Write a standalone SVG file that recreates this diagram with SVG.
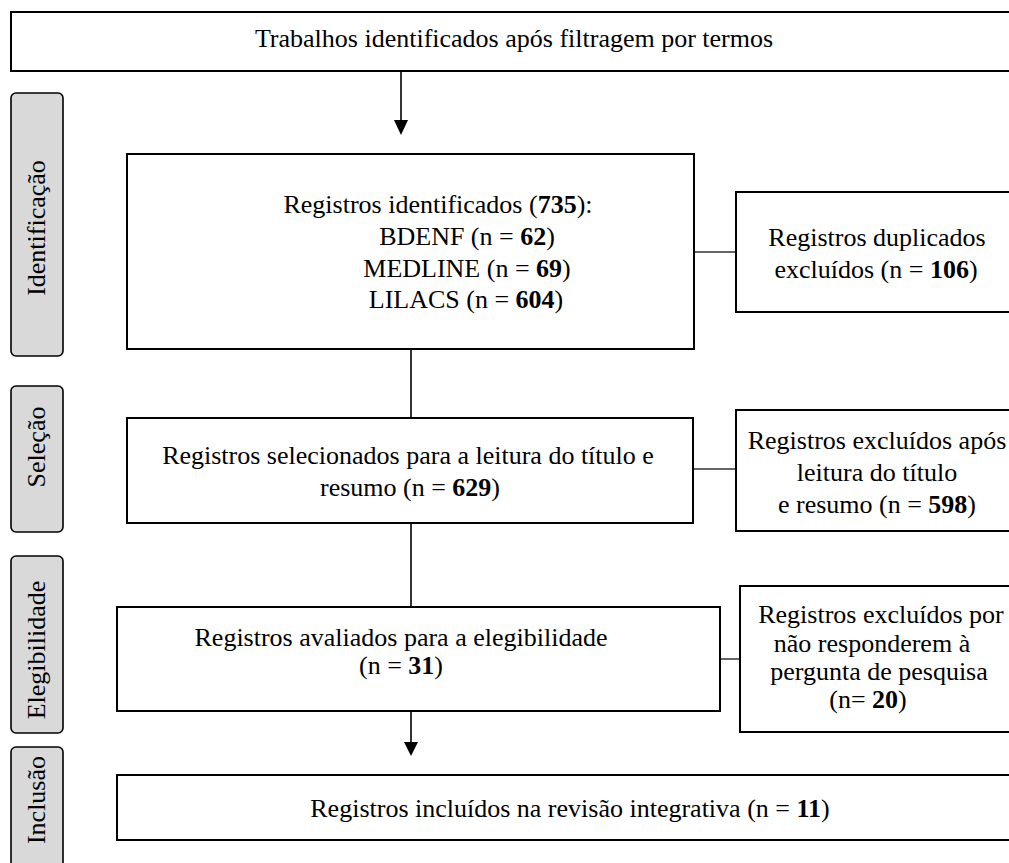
<svg xmlns="http://www.w3.org/2000/svg" width="1009" height="863" viewBox="0 0 1009 863" font-family="'Liberation Serif', 'DejaVu Serif', serif">
<style>
.box{fill:#fff;stroke:#000;stroke-width:2}
.side{fill:#d9d9d9;stroke:#000;stroke-width:1.6}
.t{font-family:'Liberation Serif', 'DejaVu Serif', serif;font-size:26px;fill:#000;text-anchor:middle}
.b{font-weight:bold}
.v{stroke:#000;stroke-width:1.6;fill:none}
.h{stroke:#666;stroke-width:2;fill:none}
</style>
<g id="connectors">
<line class="v" x1="401" y1="71" x2="401" y2="120"/>
<path d="M394,120 L408,120 L401,135 Z" fill="#000"/>
<line class="v" x1="411" y1="349" x2="411" y2="418"/>
<line class="v" x1="411" y1="523" x2="411" y2="607"/>
<line class="v" x1="411" y1="711" x2="411" y2="742"/>
<path d="M404,742 L418,742 L411,756 Z" fill="#000"/>
<line class="h" x1="694" y1="252" x2="736" y2="252"/>
<line class="h" x1="693" y1="469" x2="736" y2="469"/>
<line class="h" x1="720" y1="659" x2="740" y2="659"/>
</g>
<g id="top">
<rect class="box" x="11" y="12" width="1010" height="59"/>
<text class="t" x="514" y="47">Trabalhos identificados após filtragem por termos</text>
</g>
<g id="phase-identificacao">
<rect class="side" x="11" y="93" width="52" height="263" rx="5"/>
<text class="t" transform="translate(45 228) rotate(-90)">Identificação</text>
</g>
<g id="phase-selecao">
<rect class="side" x="11" y="386" width="52" height="146" rx="5"/>
<text class="t" transform="translate(45 447) rotate(-90)">Seleção</text>
</g>
<g id="phase-elegibilidade">
<rect class="side" x="11" y="556" width="52" height="177" rx="5"/>
<text class="t" transform="translate(45 650) rotate(-90)">Elegibilidade</text>
</g>
<g id="phase-inclusao">
<rect class="side" x="11" y="747" width="52" height="130" rx="5"/>
<text class="t" transform="translate(45 800) rotate(-90)">Inclusão</text>
</g>
<g id="identificados">
<rect class="box" x="127" y="154" width="567" height="195"/>
<text class="t" x="438" y="213">Registros identificados (<tspan class="b">735</tspan>):</text>
<text class="t" x="467" y="245">BDENF (n = <tspan class="b">62</tspan>)</text>
<text class="t" x="467" y="277">MEDLINE (n = <tspan class="b">69</tspan>)</text>
<text class="t" x="466" y="308">LILACS (n = <tspan class="b">604</tspan>)</text>
</g>
<g id="duplicados">
<rect class="box" x="736" y="192" width="290" height="120"/>
<text class="t" x="877" y="246">Registros duplicados</text>
<text class="t" x="876" y="278">excluídos (n = <tspan class="b">106</tspan>)</text>
</g>
<g id="selecionados">
<rect class="box" x="127" y="418" width="566" height="105"/>
<text class="t" x="408" y="464">Registros selecionados para a leitura do título e</text>
<text class="t" x="410" y="496">resumo (n = <tspan class="b">629</tspan>)</text>
</g>
<g id="excluidos-titulo">
<rect class="box" x="736" y="410" width="290" height="121"/>
<text class="t" x="877" y="449">Registros excluídos após</text>
<text class="t" x="877" y="481">leitura do título</text>
<text class="t" x="877" y="513">e resumo (n = <tspan class="b">598</tspan>)</text>
</g>
<g id="avaliados">
<rect class="box" x="117" y="607" width="603" height="104"/>
<text class="t" x="401" y="646">Registros avaliados para a elegibilidade</text>
<text class="t" x="401" y="674">(n = <tspan class="b">31</tspan>)</text>
</g>
<g id="excluidos-pergunta">
<rect class="box" x="740" y="586" width="290" height="146"/>
<text class="t" x="881" y="623">Registros excluídos por</text>
<text class="t" x="872" y="652">não responderem à</text>
<text class="t" x="879" y="680">pergunta de pesquisa</text>
<text class="t" x="868" y="708">(n= <tspan class="b">20</tspan>)</text>
</g>
<g id="incluidos">
<rect class="box" x="117" y="775" width="910" height="65"/>
<text class="t" x="570" y="817">Registros incluídos na revisão integrativa (n = <tspan class="b">11</tspan>)</text>
</g>
</svg>
